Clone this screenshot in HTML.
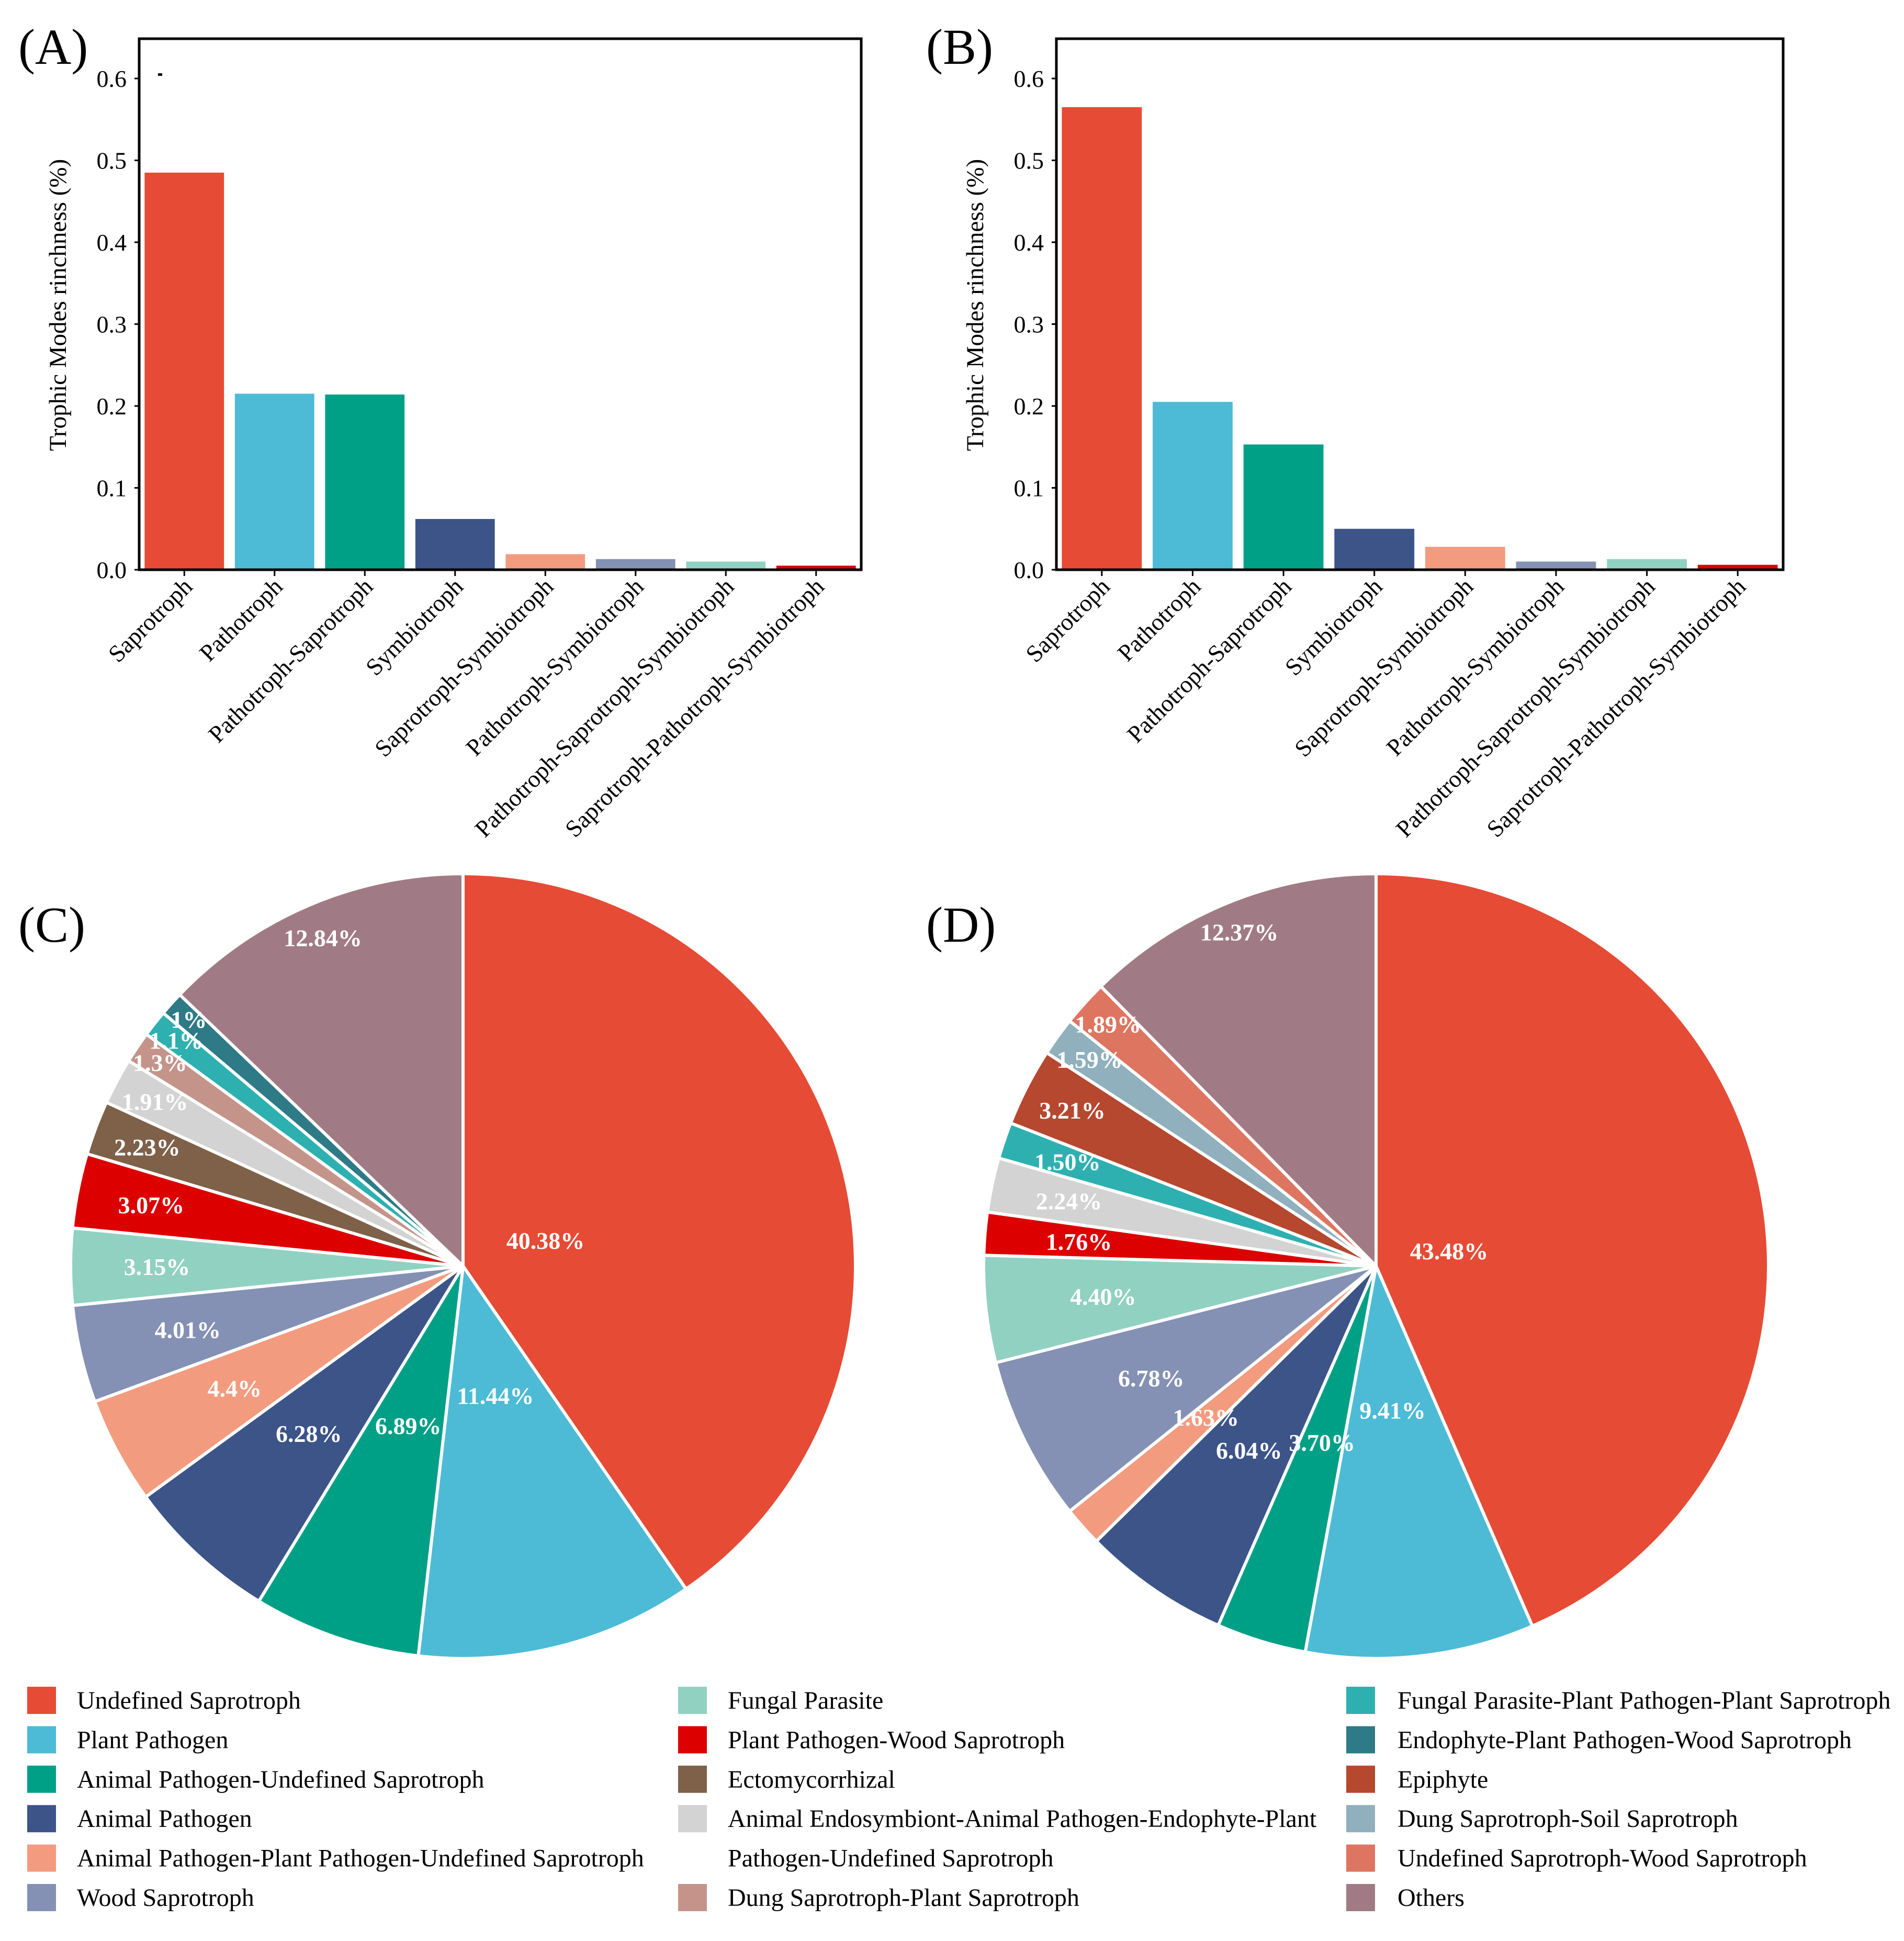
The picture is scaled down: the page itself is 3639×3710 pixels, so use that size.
<!DOCTYPE html>
<html><head><meta charset="utf-8">
<style>
html,body{margin:0;padding:0;background:#fff;}
svg{display:block;font-family:"Liberation Serif",serif;}
</style></head>
<body>
<svg id="fig" width="3639" height="3710" viewBox="0 0 3639 3710" xmlns="http://www.w3.org/2000/svg">
<g id="layer"></g>
</svg>
<script>
// ---- Bar chart data ----
const barCategories = ["Saprotroph","Pathotroph","Pathotroph-Saprotroph","Symbiotroph","Saprotroph-Symbiotroph","Pathotroph-Symbiotroph","Pathotroph-Saprotroph-Symbiotroph","Saprotroph-Pathotroph-Symbiotroph"];
const barValuesA = [0.485,0.215,0.214,0.062,0.019,0.013,0.010,0.005];
const barValuesB = [0.565,0.205,0.153,0.050,0.028,0.010,0.013,0.006];
const yTicks = [0.0,0.1,0.2,0.3,0.4,0.5,0.6];
const yTickLabels = ["0.0","0.1","0.2","0.3","0.4","0.5","0.6"];
const barColors = ["#E64B35","#4DBBD5","#00A087","#3C5488","#F39B7F","#8491B4","#91D1C2","#DC0000"];

// ---- Pie data ----
const pieLabelsC = ["Undefined Saprotroph","Plant Pathogen","Animal Pathogen-Undefined Saprotroph","Animal Pathogen","Animal Pathogen-Plant Pathogen-Undefined Saprotroph","Wood Saprotroph","Fungal Parasite","Plant Pathogen-Wood Saprotroph","Ectomycorrhizal","Animal Endosymbiont-Animal Pathogen-Endophyte-Plant Pathogen-Undefined Saprotroph","Dung Saprotroph-Plant Saprotroph","Fungal Parasite-Plant Pathogen-Plant Saprotroph","Endophyte-Plant Pathogen-Wood Saprotroph","Others"];
const pieValuesC = [40.38,11.44,6.89,6.28,4.4,4.01,3.15,3.07,2.23,1.91,1.3,1.1,1,12.84];
const pieTextC = ["40.38%","11.44%","6.89%","6.28%","4.4%","4.01%","3.15%","3.07%","2.23%","1.91%","1.3%","1.1%","1%","12.84%"];
const pieLabelsD = ["Undefined Saprotroph","Plant Pathogen","Animal Pathogen-Undefined Saprotroph","Animal Pathogen","Animal Pathogen-Plant Pathogen-Undefined Saprotroph","Wood Saprotroph","Fungal Parasite","Plant Pathogen-Wood Saprotroph","Animal Endosymbiont-Animal Pathogen-Endophyte-Plant Pathogen-Undefined Saprotroph","Fungal Parasite-Plant Pathogen-Plant Saprotroph","Epiphyte","Dung Saprotroph-Soil Saprotroph","Undefined Saprotroph-Wood Saprotroph","Others"];
const pieValuesD = [43.48,9.41,3.70,6.04,1.63,6.78,4.40,1.76,2.24,1.50,3.21,1.59,1.89,12.37];
const pieTextD = ["43.48%","9.41%","3.70%","6.04%","1.63%","6.78%","4.40%","1.76%","2.24%","1.50%","3.21%","1.59%","1.89%","12.37%"];

// label placement styling (fraction of radius), not data
const labelRadiusC = [0.22,0.34,0.43,0.58,0.66,0.72,0.78,0.81,0.86,0.89,0.93,0.93,0.94,0.91];
const labelRadiusD = [0.19,0.37,0.47,0.57,0.58,0.64,0.70,0.76,0.80,0.83,0.87,0.90,0.92,0.92];

const colorMap = {
 "Undefined Saprotroph":"#E64B35","Plant Pathogen":"#4DBBD5","Animal Pathogen-Undefined Saprotroph":"#00A087",
 "Animal Pathogen":"#3C5488","Animal Pathogen-Plant Pathogen-Undefined Saprotroph":"#F39B7F","Wood Saprotroph":"#8491B4",
 "Fungal Parasite":"#91D1C2","Plant Pathogen-Wood Saprotroph":"#DC0000","Ectomycorrhizal":"#7E6148",
 "Animal Endosymbiont-Animal Pathogen-Endophyte-Plant Pathogen-Undefined Saprotroph":"#D3D3D3",
 "Dung Saprotroph-Plant Saprotroph":"#C4948A","Fungal Parasite-Plant Pathogen-Plant Saprotroph":"#2EB0B0",
 "Endophyte-Plant Pathogen-Wood Saprotroph":"#2E7A87","Epiphyte":"#B5482F","Dung Saprotroph-Soil Saprotroph":"#8FB0BC",
 "Undefined Saprotroph-Wood Saprotroph":"#DE7560","Others":"#A07B85"};

const NS = "http://www.w3.org/2000/svg";
const root = document.getElementById('layer');
function mk(tag, attrs, parent, text){
  const e = document.createElementNS(NS, tag);
  for (const k in attrs) e.setAttribute(k, attrs[k]);
  if (text !== undefined) e.textContent = text;
  (parent||root).appendChild(e);
  return e;
}

function panelLabel(txt, x, y){
  const t = mk('text',{x:x,y:y,'font-size':96,fill:'#000'},root,txt);
  
  
}

function barChart(id, left, right, values){
  const top = 74, bottom = 1089;
  const g = mk('g',{});
  
  
  const y0 = 1089, yPer = (1089-150)/0.6;
  const yScale = v => y0 - v*yPer;
  const band = (right-left)/barCategories.length;
  const xCenter = i => left + band*(i+0.5);
  const bw = band*0.88;
  barCategories.forEach((c,i)=>{
    const r = mk('rect',{x:xCenter(i)-bw/2, y:yScale(values[i]), width:bw, height:y0-yScale(values[i]), fill:barColors[i]}, g);
    
    
    mk('line',{x1:xCenter(i),x2:xCenter(i),y1:bottom,y2:bottom+12,stroke:'#000','stroke-width':3},g);
    const cx = xCenter(i)+18, cy = 1124;
    const t = mk('text',{x:cx,y:cy,'font-size':46,'text-anchor':'end',transform:`rotate(-45 ${cx} ${cy})`,fill:'#000'},g,c);
    
    
  });
  yTicks.forEach((v,i)=>{
    mk('line',{x1:left-9,x2:left,y1:yScale(v),y2:yScale(v),stroke:'#000','stroke-width':3},g);
    const t = mk('text',{x:left-24,y:yScale(v)+16,'font-size':46,'text-anchor':'end',fill:'#000'},g,yTickLabels[i]);
    
    
  });
  const fr = mk('rect',{x:left,y:top,width:right-left,height:bottom-top,fill:'none',stroke:'#000','stroke-width':5},g);
  
  
  const tx = left-140, ty = 583;
  const yt = mk('text',{x:tx,y:ty,'font-size':47,'text-anchor':'middle',transform:`rotate(-90 ${tx} ${ty})`,fill:'#000'},g,'Trophic Modes rinchness (%)');
  
  
}

function pie(id, cx, cy, R, labels, values, texts, radii){
  const g = mk('g',{});
  
  
  const total = values.reduce((a,b)=>a+b,0);
  let acc = 0;
  const labelG = mk('g',{});
  values.forEach((v,i)=>{
    const a0 = acc/total*2*Math.PI; acc += v;
    const a1 = acc/total*2*Math.PI;
    const p = (a)=>[cx+R*Math.sin(a), cy-R*Math.cos(a)];
    const [x0,y0] = p(a0), [x1,y1] = p(a1);
    const large = (a1-a0)>Math.PI?1:0;
    const path = mk('path',{d:`M${cx},${cy} L${x0},${y0} A${R},${R} 0 ${large} 1 ${x1},${y1} Z`, fill:colorMap[labels[i]], stroke:'#fff','stroke-width':6,'stroke-linejoin':'round'}, g);
    
    
    const am = (a0+a1)/2;
    const fr = radii[i];
    const lx = cx + R*fr*Math.sin(am), ly = cy - R*fr*Math.cos(am);
    const t = mk('text',{x:lx,y:ly+16,'font-size':46,'font-weight':'bold','text-anchor':'middle',fill:'#fff'},labelG,texts[i]);
    
    
  });
  g.appendChild(labelG);
}

panelLabel('(A)', 35, 122);
panelLabel('(B)', 1770, 122);
panelLabel('(C)', 35, 1800);
panelLabel('(D)', 1770, 1800);

barChart('a', 266, 1646, barValuesA);
barChart('b', 2019, 3408, barValuesB);
const dash = mk('rect',{x:302,y:140,width:8,height:5,fill:'#000'});



pie('c', 885, 2420, 750, pieLabelsC, pieValuesC, pieTextC, labelRadiusC);
pie('d', 2630, 2420, 750, pieLabelsD, pieValuesD, pieTextD, labelRadiusD);

// ---- Legend ----
const legendCol1 = ["Undefined Saprotroph","Plant Pathogen","Animal Pathogen-Undefined Saprotroph","Animal Pathogen","Animal Pathogen-Plant Pathogen-Undefined Saprotroph","Wood Saprotroph"];
const legendCol2 = ["Fungal Parasite","Plant Pathogen-Wood Saprotroph","Ectomycorrhizal","Animal Endosymbiont-Animal Pathogen-Endophyte-Plant Pathogen-Undefined Saprotroph",null,"Dung Saprotroph-Plant Saprotroph"];
const legendCol3 = ["Fungal Parasite-Plant Pathogen-Plant Saprotroph","Endophyte-Plant Pathogen-Wood Saprotroph","Epiphyte","Dung Saprotroph-Soil Saprotroph","Undefined Saprotroph-Wood Saprotroph","Others"];
const lg = mk('g',{});


const rowY = i => 3250 + i*75.4;
[[legendCol1,52,147],[legendCol2,1296,1391],[legendCol3,2573,2671]].forEach(([col,sx,tx])=>{
  col.forEach((name,i)=>{
    if(name){
      const s = mk('rect',{x:sx,y:rowY(i)-26,width:55,height:52,fill:colorMap[name]},lg);
      
      
    }
    let txt = name;
    if (name && name.startsWith('Animal Endosymbiont')) txt = 'Animal Endosymbiont-Animal Pathogen-Endophyte-Plant';
    if (!name && col===legendCol2) txt = 'Pathogen-Undefined Saprotroph';
    const t = mk('text',{x:tx,y:rowY(i)+16,'font-size':48,fill:'#000'},lg,txt);
    
    
  });
});
</script>
</body></html>
